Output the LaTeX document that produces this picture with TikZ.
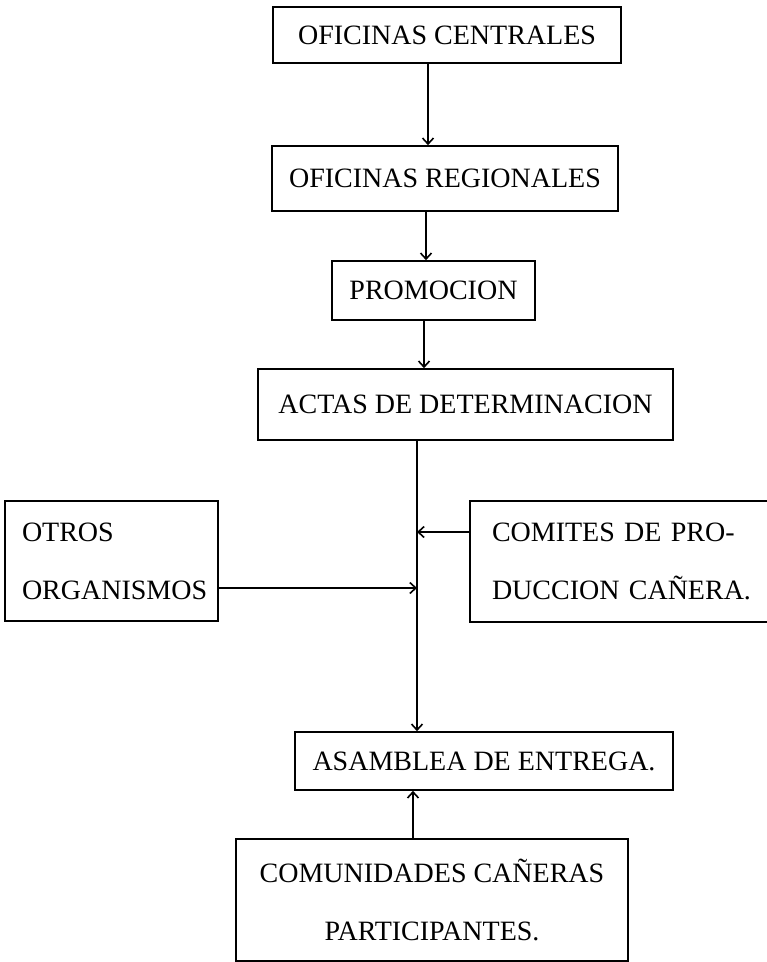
\documentclass[tikz,border=0pt]{standalone}
\usepackage{fontspec}
\setmainfont{Liberation Serif}
\usepackage{tikz}
\usetikzlibrary{calc,arrows.meta}

\tikzset{
	caja/.style={draw, line width=1.6pt, inner sep=0pt, font=\fontsize{28}{58}\selectfont},
	flecha/.style={-{Straight Barb[length=6pt,width=11pt,line width=1.6pt]}, line width=1.6pt}
}

\begin{document}
\begin{tikzpicture}[x=1pt,y=-1pt]
		\clip (0,0) rectangle (767,962);
		\node[caja, minimum width=348pt, minimum height=56pt] (cen) at (447,35) {OFICINAS CENTRALES};
		\node[caja, minimum width=346pt, minimum height=65pt] (reg) at (445,178.5) {OFICINAS REGIONALES};
		\node[caja, minimum width=203pt, minimum height=59pt] (pro) at (433.5,290.5) {PROMOCION};
		\node[caja, minimum width=415pt, minimum height=71pt] (act) at (465.5,404.5) {ACTAS DE DETERMINACION};
		\node[caja, align=left, text width=179pt, minimum width=213pt, minimum height=120pt] (otr) at (111.5,561) {OTROS\\ORGANISMOS};
		\node[caja, align=left, text width=286pt, minimum width=330pt, minimum height=121pt] (com) at (635,561.5) {COMITES DE PRO-\\DUCCION CAÑERA.};
		\node[caja, minimum width=378pt, minimum height=58pt] (asa) at (484,761) {ASAMBLEA DE ENTREGA.};
		\node[caja, align=center, minimum width=392pt, minimum height=122pt] (cmu) at (432,900) {COMUNIDADES CAÑERAS\\PARTICIPANTES.};
		
		\coordinate (t) at ([xshift=-48.5pt]act.south);
		\coordinate (comin) at ([yshift=29.5pt]com.west);
		\coordinate (otrin) at ([yshift=-27pt]otr.east);
		
		\draw[flecha] ([xshift=-19pt]cen.south) -- ([xshift=-19pt]cen.south |- reg.north);
		\draw[flecha] ([xshift=-19pt]reg.south) -- ([xshift=-19pt]reg.south |- pro.north);
		\draw[flecha] ([xshift=-9.5pt]pro.south) -- ([xshift=-9.5pt]pro.south |- act.north);
		\draw[flecha] (t) -- (t |- asa.north);
		\draw[flecha] (comin) -- (t |- comin);
		\draw[flecha] (otrin) -- (t |- otrin);
		\draw[flecha] ([xshift=-19pt]cmu.north) -- ([xshift=-19pt]cmu.north |- asa.south);
	\end{tikzpicture}
\end{document}
